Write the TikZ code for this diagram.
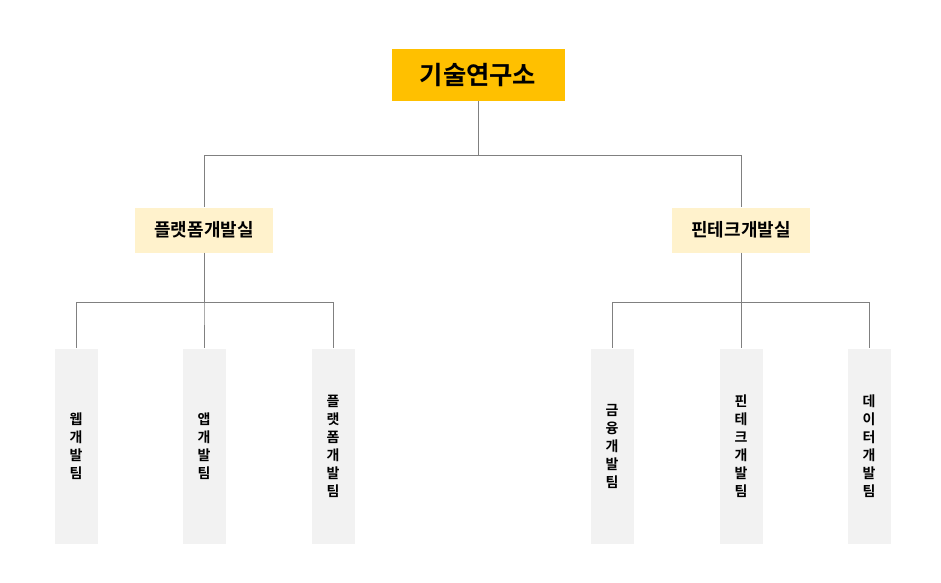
\documentclass[tikz,border=0pt]{standalone}
\usepackage{fontspec}
\newfontfamily\kr{Noto Sans CJK KR}[BoldFont={Noto Sans CJK KR Bold}]
\begin{document}
\begin{tikzpicture}[x=0.75pt,y=-0.75pt,
  conn/.style={draw=black!50,line width=0.6pt},
  topbox/.style={fill={rgb,255:red,255;green,192;blue,0},minimum width=173*0.75pt,minimum height=52*0.75pt,font=\kr\bfseries\fontsize{19}{22}\selectfont},
  midbox/.style={fill={rgb,255:red,255;green,242;blue,204},minimum width=138*0.75pt,minimum height=45*0.75pt,font=\kr\bfseries\fontsize{13.5}{15}\selectfont},
  leaf/.style={fill={rgb,255:red,242;green,242;blue,242},minimum width=43*0.75pt,minimum height=195*0.75pt,align=center,font=\kr\bfseries\fontsize{10.5}{13.5}\selectfont}]
\useasboundingbox (0,0) rectangle (941,582);
\node[topbox] (top) at (478,75) {기술연구소};
\node[midbox] (m1) at (204,230) {플랫폼개발실};
\node[midbox] (m2) at (741,230) {핀테크개발실};
\node[leaf] (l1) at (76,446) {웹\\개\\발\\팀};
\node[leaf] (l2) at (204,446) {앱\\개\\발\\팀};
\node[leaf] (l3) at (333,446) {플\\랫\\폼\\개\\발\\팀};
\node[leaf] (r1) at (612,446) {금\\융\\개\\발\\팀};
\node[leaf] (r2) at (741,446) {핀\\테\\크\\개\\발\\팀};
\node[leaf] (r3) at (869,446) {데\\이\\터\\개\\발\\팀};
\draw[conn] (top.south) -- ++(0,54) -| (m1.north);
\draw[conn] (top.south) -- ++(0,54) -| (m2.north);
\foreach \a in {l1,l2,l3} \draw[conn] (m1.south) -- ++(0,50) -| (\a.north);
\foreach \a in {r1,r2,r3} \draw[conn] (m2.south) -- ++(0,50) -| (\a.north);
\end{tikzpicture}
\end{document}
